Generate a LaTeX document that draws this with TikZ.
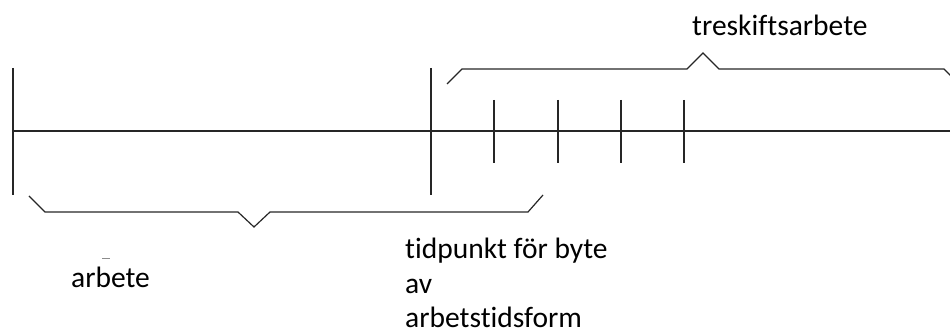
\documentclass[tikz,border=0pt]{standalone}
\usepackage{fontspec}
\setmainfont{Carlito}[Ligatures=NoCommon]
\begin{document}
\begin{tikzpicture}[x=1pt,y=-1pt,
  axis/.style={line width=1.2pt,draw=black!85},
  brace/.style={line width=1.2pt,draw=black!85,line join=miter},
  lbl/.style={anchor=base west,inner sep=0pt,font=\fontsize{29.5}{36}\selectfont}]
\useasboundingbox (0,0) rectangle (950,336);
\clip (0,0) rectangle (950,336);

% time axis
\coordinate (axL) at (13,131);
\coordinate (axR) at (955,131);
\draw[axis] (axL) -- (axR);

% boundaries of the periods
\coordinate (b0t) at (13,68);   \coordinate (b0b) at (13,195);
\coordinate (b1t) at (431,68);  \coordinate (b1b) at (431,195);
\draw[axis] (b0t) -- (b0b);
\draw[axis] (b1t) -- (b1b);

% shift changes
\foreach \x [count=\i] in {494,558,621,684}{
  \coordinate (s\i t) at (\x,100);
  \coordinate (s\i b) at (\x,163);
  \draw[axis] (s\i t) -- (s\i b);
}

% brace below the first period
\draw[brace] (29,196) -- (45,212) -- (238,212) -- (254,227) -- (270,212) -- (528,212) -- (543,195);

% brace above the three-shift period
\draw[brace] (447,84) -- (462,69) -- (687,69) -- (703,53) -- (719,69) -- (944,69) -- (958,83);

% labels
\node[lbl] (tre) at (692,36) {treskiftsarbete};
\node[lbl] (arb) at (71,288) {arbete};
\node[lbl] (tid1) at (405,259) {tidpunkt för byte};
\node[lbl] (tid2) at (405,293.5) {av};
\node[lbl] (tid3) at (405,328) {arbetstidsform};
\draw[line width=0.8pt,black!45] (102,258) -- (110,258);
\end{tikzpicture}
\end{document}
